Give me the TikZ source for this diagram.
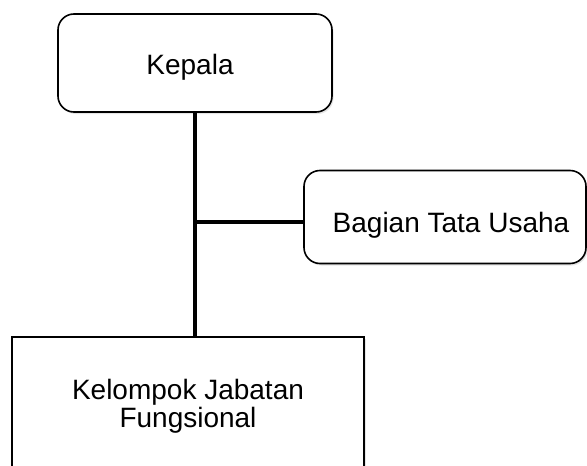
\documentclass[tikz,border=0pt]{standalone}
\usepackage{fontspec}
\setmainfont{Liberation Sans}
\usetikzlibrary{shadows}
\begin{document}
\begin{tikzpicture}[x=1pt,y=-1pt,
  kotak/.style={draw,line width=1.6pt,fill=white,align=center,inner sep=0pt,
    font=\fontsize{28}{28}\selectfont,
    drop shadow={opacity=0.2,shadow xshift=1.5pt,shadow yshift=-2pt}},
  bulat/.style={kotak,rounded corners=16pt},
  garis/.style={line width=3.5pt}]
\clip (0,0) rectangle (587,466);
\fill[white] (0,0) rectangle (587,466);
\node[bulat,minimum width=274pt,minimum height=98pt] (kepala) at (195,63) {\raisebox{-11pt}[0pt][0pt]{Kepala}\hspace*{10pt}};
\node[bulat,minimum width=282pt,minimum height=93pt] (tu) at (445,217) {\hspace*{12pt}\raisebox{-15pt}[0pt][0pt]{Bagian Tata Usaha}};
\node[kotak,minimum width=352pt,minimum height=138pt] (jafung) at (188,406) {Kelompok Jabatan\\Fungsional};
\coordinate (cabang) at ([yshift=-5pt]kepala |- tu);
\draw[garis] (kepala.south) -- (kepala.south |- jafung.north);
\draw[garis] (cabang) -- (tu.west |- cabang);
\end{tikzpicture}
\end{document}
